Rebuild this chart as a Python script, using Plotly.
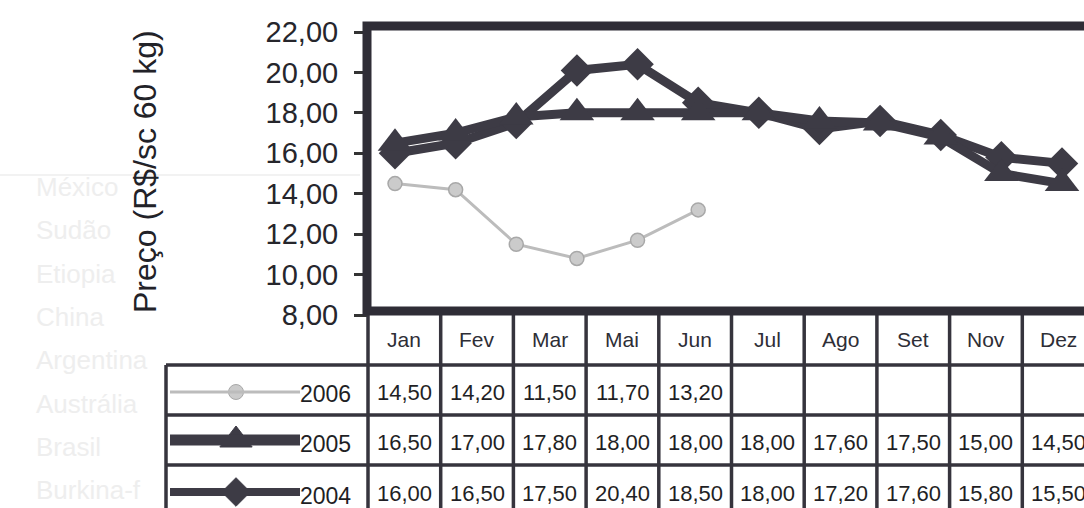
import plotly.graph_objects as go

# ---------------- data ----------------
months_plot = ["Jan", "Fev", "Mar", "Abr", "Mai", "Jun", "Jul", "Ago", "Set", "Out", "Nov", "Dez"]
price_2006 = [14.5, 14.2, 11.5, 10.8, 11.7, 13.2, None, None, None, None, None, None]
price_2005 = [16.5, 17.0, 17.8, 18.0, 18.0, 18.0, 18.0, 17.6, 17.5, 16.8, 15.0, 14.5]
price_2004 = [16.0, 16.5, 17.5, 20.1, 20.4, 18.5, 18.0, 17.2, 17.6, 16.9, 15.8, 15.5]

table_months = ["Jan", "Fev", "Mar", "Mai", "Jun", "Jul", "Ago", "Set", "Nov", "Dez"]
table_2006 = [14.50, 14.20, 11.50, 11.70, 13.20, None, None, None, None, None]
table_2005 = [16.50, 17.00, 17.80, 18.00, 18.00, 18.00, 17.60, 17.50, 15.00, 14.50]
table_2004 = [16.00, 16.50, 17.50, 20.40, 18.50, 18.00, 17.20, 17.60, 15.80, 15.50]
series_names = ["2006", "2005", "2004"]

y_ticks = [8, 10, 12, 14, 16, 18, 20, 22]
y_title = "Preço (R$/sc 60 kg)"

ghost_words = ["México", "Sudão", "Etiopia", "China", "Argentina", "Austrália", "Brasil", "Burkina-f"]

# ---------------- layout constants (pixels) ----------------
W, H = 1084, 508
PLOT_L, PLOT_T, PLOT_B = 368, 32, 315      # y=22 at PLOT_T, y=8 at PLOT_B
FIRST_X, LAST_X = 395, 1062
DARK = "#36343d"
LINE_DARK = "#3d3b45"
GREY = "#bcbcbc"
FONT = "Liberation Sans, Arial, sans-serif"

step = (LAST_X - FIRST_X) / (len(months_plot) - 1)
x_lo = -(FIRST_X - PLOT_L) / step
x_hi = (len(months_plot) - 1) + (W - LAST_X) / step

fig = go.Figure()

# main data traces
fig.add_trace(go.Scatter(
    x=months_plot, y=price_2006, mode="lines+markers", name="2006",
    line=dict(color=GREY, width=3),
    marker=dict(symbol="circle", size=14, color="#cbcbcb", line=dict(color="#a8a8a8", width=1.5)),
    showlegend=False, xaxis="x", yaxis="y"))
fig.add_trace(go.Scatter(
    x=months_plot, y=price_2004, mode="lines+markers", name="2004",
    line=dict(color=LINE_DARK, width=9),
    marker=dict(symbol="diamond", size=25, color=LINE_DARK),
    showlegend=False, xaxis="x", yaxis="y"))
fig.add_trace(go.Scatter(
    x=months_plot, y=price_2005, mode="lines+markers", name="2005",
    line=dict(color=LINE_DARK, width=9),
    marker=dict(symbol="triangle-up", size=30, color=LINE_DARK),
    showlegend=False, xaxis="x", yaxis="y"))

# ---------------- table geometry ----------------
col_w = 72.7
col_edges = [PLOT_L + col_w * k for k in range(len(table_months) + 1)]
row_edges = [311, 365, 415, 465, 518]
LEG_L = 166

shapes = []
annotations = []


def fmt(v):
    return "" if v is None else f"{v:.2f}".replace(".", ",")


# vertical table lines
for xe in col_edges:
    shapes.append(dict(type="line", xref="x2", yref="y2", x0=xe, x1=xe, y0=311, y1=H + 20,
                       line=dict(color=DARK, width=3.5)))
# horizontal table lines
for ye in row_edges[1:]:
    shapes.append(dict(type="line", xref="x2", yref="y2", x0=LEG_L, x1=W + 50, y0=ye, y1=ye,
                       line=dict(color=DARK, width=3.5)))
shapes.append(dict(type="line", xref="x2", yref="y2", x0=LEG_L, x1=LEG_L, y0=row_edges[1], y1=H + 20,
                   line=dict(color=DARK, width=3.5)))

# plot frame (thick border, right side falls outside the page)
shapes.append(dict(type="rect", xref="x2", yref="y2", x0=367, x1=W + 60, y0=26, y1=311,
                   line=dict(color="#2f2d36", width=9), fillcolor="rgba(0,0,0,0)"))

# header months
for i, m in enumerate(table_months):
    cx = (col_edges[i] + col_edges[i + 1]) / 2
    annotations.append(dict(x=cx, y=339, xref="x2", yref="y2", text=m, showarrow=False,
                            font=dict(family=FONT, size=21, color="#2e2e36")))

# values
for r, vals in enumerate([table_2006, table_2005, table_2004]):
    cy = (row_edges[r + 1] + row_edges[r + 2]) / 2 + 2
    for i, v in enumerate(vals):
        cx = (col_edges[i] + col_edges[i + 1]) / 2
        annotations.append(dict(x=cx, y=cy, xref="x2", yref="y2", text=fmt(v), showarrow=False,
                                font=dict(family=FONT, size=22, color="#1f1f25")))
    # legend series name
    annotations.append(dict(x=353, y=cy + 2, xref="x2", yref="y2", text=series_names[r], showarrow=False,
                            xanchor="right", font=dict(family=FONT, size=23, color="#1f1f25")))

# legend samples
leg_y = [392, 440, 492]
leg_styles = [
    (GREY, 3, "circle", 15, "#cbcbcb"),
    (LINE_DARK, 11, "triangle-up", 28, LINE_DARK),
    (LINE_DARK, 8, "diamond", 22, LINE_DARK),
]
for yy, (lc, lw, sym, ms, mc) in zip(leg_y, leg_styles):
    shapes.append(dict(type="line", xref="x2", yref="y2", x0=170, x1=300, y0=yy, y1=yy,
                       line=dict(color=lc, width=lw)))
    fig.add_trace(go.Scatter(x=[236], y=[yy], mode="markers", showlegend=False,
                             marker=dict(symbol=sym, size=ms, color=mc,
                                         line=dict(color="#a8a8a8" if sym == "circle" else mc, width=1)),
                             xaxis="x2", yaxis="y2", hoverinfo="skip"))

# y title
annotations.append(dict(x=145, y=172, xref="x2", yref="y2", text=y_title, textangle=-90, showarrow=False,
                        font=dict(family=FONT, size=32, color="#222228")))

# faint bleed-through words of the scanned page
for k, wd in enumerate(ghost_words):
    annotations.append(dict(x=34, y=187 + 43.3 * k, xref="x2", yref="y2", text=wd, showarrow=False,
                            xanchor="left", font=dict(family=FONT, size=26, color="#eeeeee")))
shapes.insert(0, dict(type="line", xref="x2", yref="y2", x0=0, x1=360, y0=175, y1=175,
                      line=dict(color="#eeeeee", width=1.5), layer="below"))

fig.update_layout(
    width=W, height=H,
    margin=dict(l=0, r=0, t=0, b=0, pad=0, autoexpand=False),
    paper_bgcolor="white", plot_bgcolor="rgba(0,0,0,0)",
    separators=",.",
    xaxis=dict(domain=[PLOT_L / W, 1], range=[x_lo, x_hi], type="category", automargin=False,
               showticklabels=False, showgrid=False, zeroline=False, showline=False, ticks=""),
    yaxis=dict(domain=[1 - PLOT_B / H, 1 - PLOT_T / H], range=[8, 22], tickvals=y_ticks,
               tickformat=".2f", ticks="outside", ticklen=13, tickwidth=3, tickcolor="#333",
               showgrid=False, zeroline=False, showline=False, ticklabelstandoff=10, automargin=False,
               tickfont=dict(family=FONT, size=29, color="#26262c")),
    xaxis2=dict(domain=[0, 1], range=[0, W], visible=False, anchor="y2", automargin=False),
    yaxis2=dict(domain=[0, 1], range=[H, 0], visible=False, anchor="x2", automargin=False),
    shapes=shapes,
    annotations=annotations,
    showlegend=False,
)

fig.write_html("out.html", config={"displayModeBar": False},
               post_script="document.body.style.margin='0';")
